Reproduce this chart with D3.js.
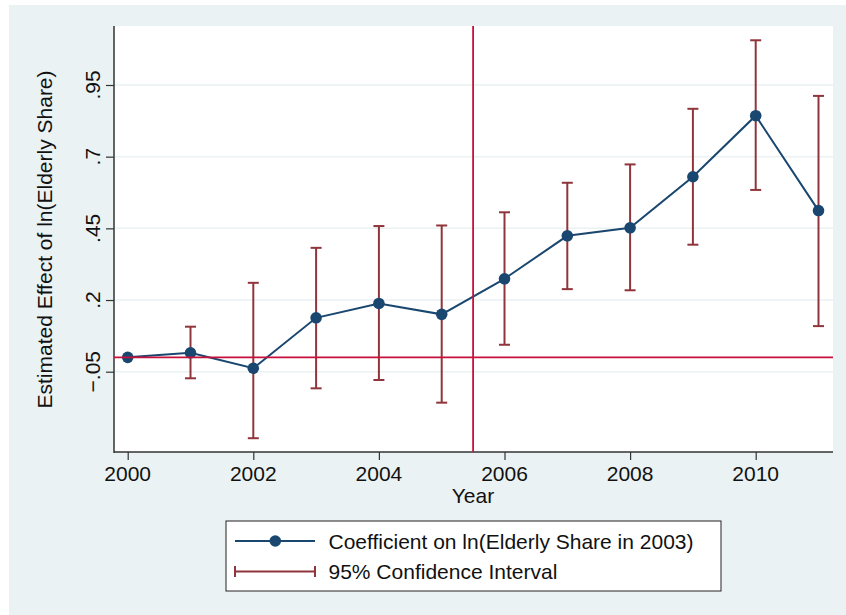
<!DOCTYPE html>
<html>
<head>
<meta charset="utf-8">
<script src="https://cdn.jsdelivr.net/npm/d3@7"></script>
<style>
html,body{margin:0;padding:0;background:#fff;}
svg{display:block;font-family:"Liberation Sans",Arial,Helvetica,sans-serif;}
</style>
</head>
<body>
<svg id="chart" width="846" height="615"></svg>
<script>
const years = [2000, 2001, 2002, 2003, 2004, 2005, 2006, 2007, 2008, 2009, 2010, 2011];
const coef  = [0.000, 0.016, -0.038, 0.138, 0.188, 0.150, 0.274, 0.424, 0.452, 0.630, 0.843, 0.512];
const ciLow = [null, -0.073, -0.282, -0.108, -0.079, -0.158, 0.044, 0.238, 0.234, 0.393, 0.584, 0.109];
const ciHigh= [null, 0.107, 0.260, 0.382, 0.458, 0.460, 0.506, 0.609, 0.673, 0.867, 1.106, 0.912];
const yTicks = [-0.05, 0.2, 0.45, 0.7, 0.95];
const yTickLabels = ["\u2212.05", ".2", ".45", ".7", ".95"];
const xTicks = [2000, 2002, 2004, 2006, 2008, 2010];
const refYear = 2005.5;
const refValue = 0;
const legendLabels = ["Coefficient on ln(Elderly Share in 2003)", "95% Confidence Interval"];

const svg = d3.select("#chart");
const plot = {left: 114, right: 833, top: 26, bottom: 452};
const x = d3.scaleLinear().domain([2000, 2011]).range([127.7, 818.5]);
const y = d3.scaleLinear().domain([-0.05, 0.95]).range([371.7, 85]);
const fs = 21;

const navy = "#1a476f", maroon = "#90353b", crimson = "#c8103c";

// background
svg.append("rect").attr("x", 9).attr("y", 5).attr("width", 837).attr("height", 610).attr("fill", "#eaf2f3");
svg.append("rect").attr("x", plot.left).attr("y", plot.top)
  .attr("width", plot.right - plot.left).attr("height", plot.bottom - plot.top).attr("fill", "#fff");

// gridlines
svg.append("g").selectAll("line").data(yTicks).join("line")
  .attr("x1", plot.left).attr("x2", plot.right)
  .attr("y1", d => y(d)).attr("y2", d => y(d))
  .attr("stroke", "#eaf2f3").attr("stroke-width", 1.5);

// y axis
const yAxis = d3.axisLeft(y).tickValues(yTicks).tickSize(8).tickFormat("");
const gy = svg.append("g").attr("transform", `translate(${plot.left},0)`).call(yAxis);
gy.select(".domain").remove();
gy.selectAll(".tick line").attr("stroke", "#333").attr("stroke-width", 1.2);
svg.append("line").attr("x1", plot.left).attr("x2", plot.left).attr("y1", plot.top).attr("y2", plot.bottom + 1)
  .attr("stroke", "#333").attr("stroke-width", 1.5);
svg.append("g").selectAll("text").data(yTicks).join("text")
  .attr("transform", (d) => `translate(100,${y(d)}) rotate(-90)`)
  .attr("text-anchor", "middle").attr("font-size", fs).attr("fill", "#111")
  .text((d, i) => yTickLabels[i]);

// x axis
const xAxis = d3.axisBottom(x).tickValues(xTicks).tickSize(8).tickFormat("");
const gx = svg.append("g").attr("transform", `translate(0,${plot.bottom})`).call(xAxis);
gx.select(".domain").remove();
gx.selectAll(".tick line").attr("stroke", "#333").attr("stroke-width", 1.2);
svg.append("line").attr("x1", plot.left).attr("x2", plot.right).attr("y1", plot.bottom).attr("y2", plot.bottom)
  .attr("stroke", "#333").attr("stroke-width", 1.5);
svg.append("g").selectAll("text").data(xTicks).join("text")
  .attr("x", d => x(d)).attr("y", 480.5).attr("text-anchor", "middle")
  .attr("font-size", fs).attr("fill", "#111").text(d => d);

// axis titles
svg.append("text").attr("x", 473).attr("y", 503).attr("text-anchor", "middle")
  .attr("font-size", fs).attr("fill", "#111").text("Year");
svg.append("text").attr("transform", "translate(51.5,239.5) rotate(-90)").attr("text-anchor", "middle")
  .attr("font-size", fs).attr("fill", "#111").text("Estimated Effect of ln(Elderly Share)");

// CI bars
const ci = years.map((yr, i) => ({yr, lo: ciLow[i], hi: ciHigh[i]})).filter(d => d.lo !== null);
const gci = svg.append("g").attr("stroke", maroon).attr("stroke-width", 2);
gci.selectAll("line.v").data(ci).join("line").attr("class", "v")
  .attr("x1", d => x(d.yr)).attr("x2", d => x(d.yr)).attr("y1", d => y(d.lo)).attr("y2", d => y(d.hi));
gci.selectAll("line.lo").data(ci).join("line").attr("class", "lo")
  .attr("x1", d => x(d.yr) - 5.5).attr("x2", d => x(d.yr) + 5.5).attr("y1", d => y(d.lo)).attr("y2", d => y(d.lo));
gci.selectAll("line.hi").data(ci).join("line").attr("class", "hi")
  .attr("x1", d => x(d.yr) - 5.5).attr("x2", d => x(d.yr) + 5.5).attr("y1", d => y(d.hi)).attr("y2", d => y(d.hi));

// coefficient line + markers
const pts = years.map((yr, i) => ({yr, v: coef[i]}));
svg.append("path").datum(pts)
  .attr("d", d3.line().x(d => x(d.yr)).y(d => y(d.v)))
  .attr("fill", "none").attr("stroke", navy).attr("stroke-width", 2);
svg.append("g").selectAll("circle").data(pts).join("circle")
  .attr("cx", d => x(d.yr)).attr("cy", d => y(d.v)).attr("r", 5.8).attr("fill", navy);

// reference lines
svg.append("line").attr("x1", x(refYear)).attr("x2", x(refYear)).attr("y1", plot.top).attr("y2", plot.bottom)
  .attr("stroke", crimson).attr("stroke-width", 1.8);
svg.append("line").attr("x1", plot.left).attr("x2", plot.right).attr("y1", y(refValue)).attr("y2", y(refValue))
  .attr("stroke", crimson).attr("stroke-width", 1.8);

// legend
const lg = svg.append("g");
lg.append("rect").attr("x", 226).attr("y", 521).attr("width", 495).attr("height", 70)
  .attr("fill", "#fff").attr("stroke", "#222").attr("stroke-width", 1);
lg.append("line").attr("x1", 235).attr("x2", 315).attr("y1", 541).attr("y2", 541).attr("stroke", navy).attr("stroke-width", 2);
lg.append("circle").attr("cx", 275.3).attr("cy", 541).attr("r", 5.8).attr("fill", navy);
lg.append("line").attr("x1", 235).attr("x2", 315).attr("y1", 571.5).attr("y2", 571.5).attr("stroke", maroon).attr("stroke-width", 2);
lg.append("line").attr("x1", 235).attr("x2", 235).attr("y1", 566).attr("y2", 577).attr("stroke", maroon).attr("stroke-width", 2);
lg.append("line").attr("x1", 315).attr("x2", 315).attr("y1", 566).attr("y2", 577).attr("stroke", maroon).attr("stroke-width", 2);
lg.selectAll("text").data(legendLabels).join("text")
  .attr("x", 328.5).attr("y", (d, i) => 548.5 + i * 30).attr("font-size", fs).attr("fill", "#111").text(d => d);
</script>
</body>
</html>
